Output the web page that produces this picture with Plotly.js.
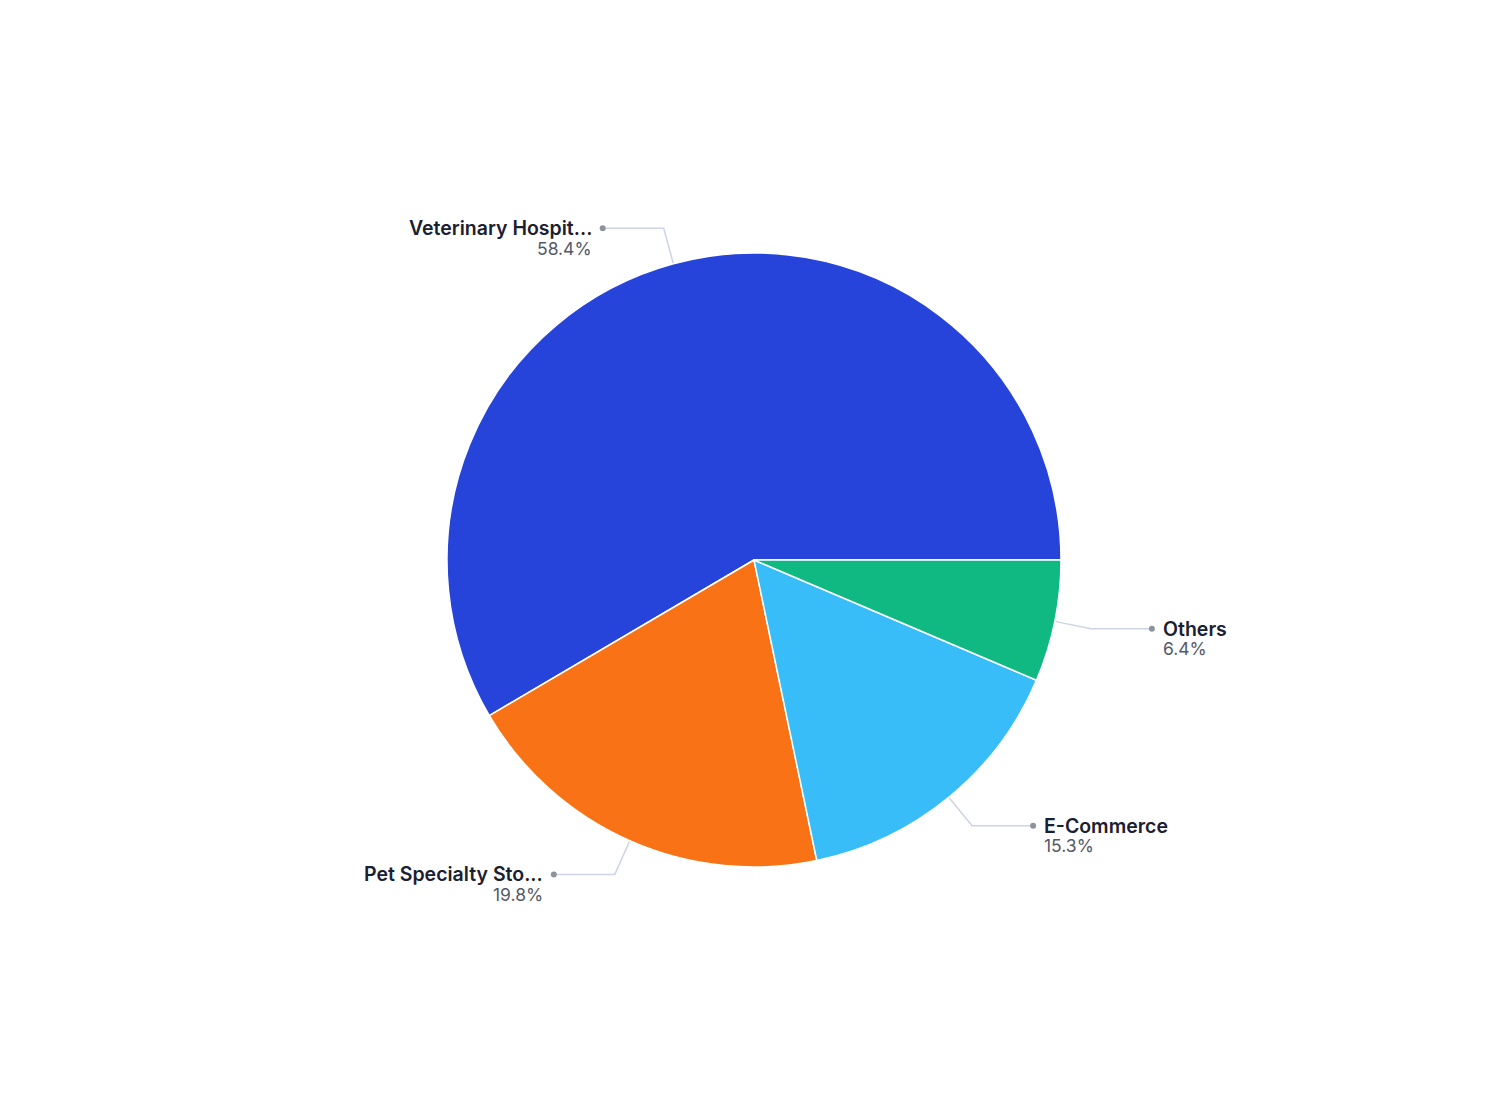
<!DOCTYPE html>
<html>
<head>
<meta charset="utf-8">
<script src="https://cdn.plot.ly/plotly-3.0.1.min.js"></script>
<style>
  html, body { margin: 0; padding: 0; background: #ffffff; }
  #chart { width: 1508px; height: 1120px; }
</style>
</head>
<body>
<div id="chart"></div>
<script>
// chart data
var channels = ["Veterinary Hospitals", "Pet Specialty Stores", "E-Commerce", "Others"];
var shares = [58.4, 19.8, 15.3, 6.4];
var sliceColors = ["#2744da", "#f97316", "#38bdf8", "#10b981"];

var W = 1508, H = 1120;
// pie sits in this box (pixels), the overlay axes cover the whole page
var box = {l: 100, r: 1408, t: 253, b: 867};
var cxPix = (box.l + box.r) / 2, cyPix = (box.t + box.b) / 2;
var R = Math.min(box.r - box.l, box.b - box.t) / 2;

function shorten(s) {
  return s.length > 18 ? s.slice(0, 17) + "..." : s;
}

var total = shares.reduce(function (a, b) { return a + b; }, 0);

// plotly lays the first slice clockwise from `rotation` when direction is counterclockwise,
// so shift it back so that the first slice starts at 3 o'clock going counterclockwise
var rotation = 90 - shares[0] / total * 360;

var traces = [{
  type: "pie",
  labels: channels,
  values: shares,
  sort: false,
  direction: "counterclockwise",
  rotation: rotation,
  textinfo: "none",
  hoverinfo: "label+percent",
  marker: {colors: sliceColors, line: {color: "#ffffff", width: 1.5}},
  domain: {x: [box.l / W, box.r / W], y: [1 - box.b / H, 1 - box.t / H]},
  showlegend: false
}];

// leader lines and labels, placed from the slice mid angles
var annotations = [];
var cum = 0;
shares.forEach(function (v, i) {
  var mid = (cum + v / 2) / total * 2 * Math.PI; // counterclockwise from 3 o'clock
  cum += v;
  var cx = Math.cos(mid), cy = Math.sin(mid);
  var x0 = R * cx, y0 = R * cy;
  var x1 = R * 1.12 * cx, y1 = R * 1.12 * cy;
  var side = cx >= 0 ? 1 : -1;
  var x2 = x1 + side * 61;
  traces.push({
    type: "scatter", mode: "lines",
    x: [x0, x1, x2], y: [y0, y1, y1],
    line: {color: "#cdd4e6", width: 1.5},
    hoverinfo: "skip", showlegend: false, cliponaxis: false
  });
  traces.push({
    type: "scatter", mode: "markers",
    x: [x2], y: [y1],
    marker: {color: "#8d929d", size: 6},
    hoverinfo: "skip", showlegend: false, cliponaxis: false
  });
  var anchor = side > 0 ? "left" : "right";
  annotations.push({
    x: x2 + side * 9, y: y1, xref: "x", yref: "y",
    text: shorten(channels[i]), showarrow: false,
    xanchor: anchor, yanchor: "middle", align: anchor,
    font: {family: "Inter, 'Noto Sans', sans-serif", size: 19.5, color: "#1b2030", weight: 600}
  });
  annotations.push({
    x: x2 + side * 9, y: y1 - 20, xref: "x", yref: "y",
    text: v.toFixed(1) + "%", showarrow: false,
    xanchor: anchor, yanchor: "middle", align: anchor,
    font: {family: "Inter, 'Noto Sans', sans-serif", size: 17.5, color: "#545a68"}
  });
});

var layout = {
  width: W, height: H,
  margin: {l: 0, r: 0, t: 0, b: 0},
  paper_bgcolor: "#ffffff",
  plot_bgcolor: "rgba(0,0,0,0)",
  showlegend: false,
  xaxis: {range: [-cxPix, W - cxPix], visible: false, fixedrange: true},
  yaxis: {range: [-(H - cyPix), cyPix], visible: false, fixedrange: true},
  annotations: annotations
};

Plotly.newPlot("chart", traces, layout, {displayModeBar: false, staticPlot: true});
</script>
</body>
</html>
